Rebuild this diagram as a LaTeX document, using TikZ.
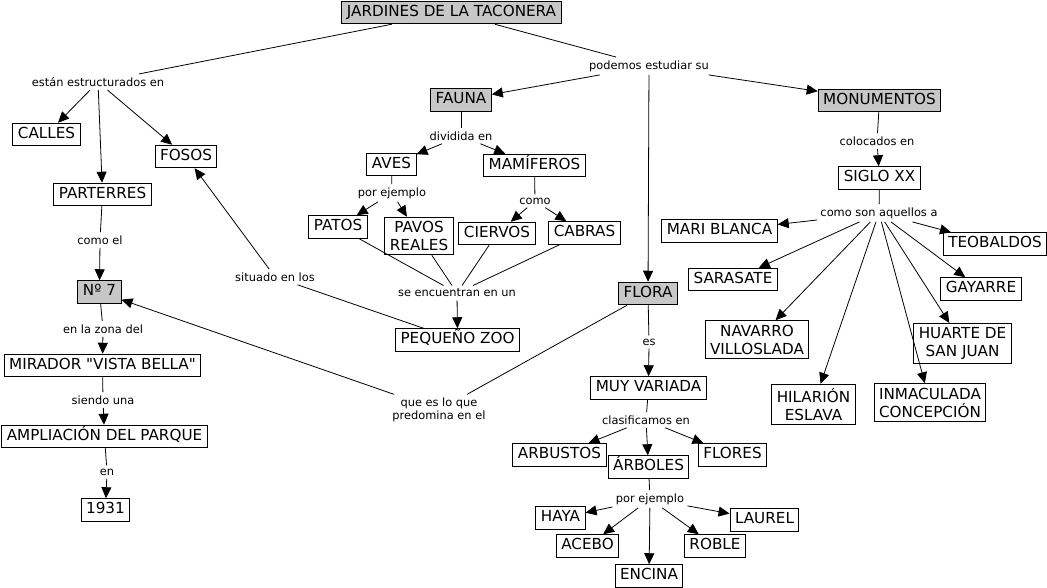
\documentclass[tikz,border=0pt]{standalone}
\usepackage{fontspec}
\setmainfont{DejaVu Sans}
\usetikzlibrary{arrows.meta}
\definecolor{cgray}{gray}{0.78}
\begin{document}
\begin{tikzpicture}[x=1pt, y=-1pt, line width=0.8pt,
  cbox/.style={draw, line width=1pt, font=\fontsize{15.2}{18}\selectfont, inner xsep=5pt, inner ysep=4pt, align=center},
  concept/.style={cbox, text height=11pt, text depth=3.5pt},
  root/.style={concept, fill=cgray},
  link/.style={font=\fontsize{11.4}{13.5}\selectfont, inner sep=3pt, align=center},
  arr/.style={-{Triangle[length=11pt, width=10pt]}}]
\useasboundingbox (0,0) rectangle (1047,588);
\node[root] (cid0) at (451.5,12.5) {JARDINES DE LA TACONERA};
\node[link] (lid0) at (98,82) {están estructurados en};
\node[link] (lid1) at (649,66) {podemos estudiar su};
\draw[](cid0) -- (lid0);
\draw[](cid0) -- (lid1);
% calles, fosos, parterres
\node[concept] (cid1) at (46.5,134.5) {CALLES};
\node[concept] (cid2) at (186,156.5) {FOSOS};
\node[concept] (cid3) at (102.5,194.5) {PARTERRES};
\draw[arr](lid0) -- (cid1);
\draw[arr](lid0) -- (cid3);
\draw[arr](lid0) -- (cid2);
\node[link] (lid2) at (100,240) {como el};
\node[root] (cid4) at (99.5,292) {Nº 7};
\draw[](cid3) -- (lid2);
\draw[arr](lid2) -- (cid4);
\node[link] (lid3) at (103,329) {en la zona del};
\node[concept] (cid5) at (102.5,365.5) {MIRADOR \textquotedbl VISTA BELLA\textquotedbl};
\draw[](cid4) -- (lid3);
\draw[arr](lid3) -- (cid5);
\node[link] (lid4) at (103,400) {siendo una};
\node[concept] (cid6) at (104.5,436.5) {AMPLIACIÓN DEL PARQUE};
\draw[](cid5) -- (lid4);
\draw[arr](lid4) -- (cid6);
\node[link] (lid5) at (107,472) {en};
\node[concept] (cid7) at (105.5,510) {1931};
\draw[](cid6) -- (lid5);
\draw[arr](lid5) -- (cid7);
% fauna
\node[root] (cid8) at (461,100) {FAUNA};
\draw[arr](lid1) -- (cid8);
\node[link] (lid6) at (461,136) {dividida en};
\node[concept] (cid9) at (391.5,164.5) {AVES};
\node[concept] (cid10) at (534.5,165.5) {MAMÍFEROS};
\draw[](cid8) -- (lid6);
\draw[arr](lid6) -- (cid9);
\draw[arr](lid6) -- (cid10);
\node[link] (lid7) at (392,193) {por ejemplo};
\node[concept] (cid11) at (338,227) {PATOS};
\node[cbox] (cid12) at (419,236) {PAVOS\\REALES};
\draw[](cid9) -- (lid7);
\draw[arr](lid7) -- (cid11);
\draw[arr](lid7) -- (cid12);
\node[link] (lid8) at (535,201) {como};
\node[concept] (cid13) at (497,233.5) {CIERVOS};
\node[concept] (cid14) at (584.5,233) {CABRAS};
\draw[](cid10) -- (lid8);
\draw[arr](lid8) -- (cid13);
\draw[arr](lid8) -- (cid14);
\node[link] (lid9) at (457,293) {se encuentran en un};
\node[concept] (cid15) at (457.5,340) {PEQUEÑO ZOO};
\draw[](cid11) -- (lid9);
\draw[](cid12) -- (lid9);
\draw[](cid13) -- (lid9);
\draw[](cid14) -- (lid9);
\draw[arr](lid9) -- (cid15);
\node[link] (lid10) at (275,277) {situado en los};
\draw[](cid15) -- (lid10);
\draw[arr](lid10) -- (cid2);
% flora
\node[root] (cid16) at (648,293.5) {FLORA};
\draw[arr](lid1) -- (cid16);
\node[link] (lid12) at (439,410) {que es lo que\\predomina en el};
\draw[](cid16) -- (lid12);
\draw[arr](lid12) -- (cid4);
\node[link] (lid11) at (649,342) {es};
\node[concept] (cid17) at (648.5,388) {MUY VARIADA};
\draw[](cid16) -- (lid11);
\draw[arr](lid11) -- (cid17);
\node[link] (lid13) at (646,420) {clasificamos en};
\node[concept] (cid18) at (559.5,455) {ARBUSTOS};
\node[concept] (cid19) at (648.5,467) {ÁRBOLES};
\node[concept] (cid20) at (732.5,455) {FLORES};
\draw[](cid17) -- (lid13);
\draw[arr](lid13) -- (cid18);
\draw[arr](lid13) -- (cid19);
\draw[arr](lid13) -- (cid20);
\node[link] (lid14) at (650,499) {por ejemplo};
\node[concept] (cid21) at (560.5,518) {HAYA};
\node[concept] (cid22) at (587.5,546) {ACEBO};
\node[concept] (cid23) at (649,576) {ENCINA};
\node[concept] (cid24) at (715,546) {ROBLE};
\node[concept] (cid25) at (764.5,520) {LAUREL};
\draw[](cid19) -- (lid14);
\draw[arr](lid14) -- (cid21);
\draw[arr](lid14) -- (cid22);
\draw[arr](lid14) -- (cid23);
\draw[arr](lid14) -- (cid24);
\draw[arr](lid14) -- (cid25);
% monumentos
\node[root] (cid26) at (879.5,100.5) {MONUMENTOS};
\draw[arr](lid1) -- (cid26);
\node[link] (lid15) at (877,141) {colocados en};
\node[concept] (cid27) at (879.5,178) {SIGLO XX};
\draw[](cid26) -- (lid15);
\draw[arr](lid15) -- (cid27);
\node[link] (lid16) at (879,213) {como son aquellos a};
\draw[](cid27) -- (lid16);
\node[concept] (cid28) at (719.5,231) {MARI BLANCA};
\node[concept] (cid29) at (995,244) {TEOBALDOS};
\node[concept] (cid30) at (733,279.5) {SARASATE};
\node[concept] (cid31) at (981,289) {GAYARRE};
\node[cbox] (cid32) at (757,339.5) {NAVARRO\\VILLOSLADA};
\node[cbox] (cid33) at (962.5,343.5) {HUARTE DE\\SAN JUAN};
\node[cbox] (cid34) at (813.5,404.5) {HILARIÓN\\ESLAVA};
\node[cbox] (cid35) at (930,402.5) {INMACULADA\\CONCEPCIÓN};
\draw[arr](lid16) -- (cid28);
\draw[arr](lid16) -- (cid29);
\draw[arr](lid16) -- (cid30);
\draw[arr](lid16) -- (cid31);
\draw[arr](lid16) -- (cid32);
\draw[arr](lid16) -- (cid33);
\draw[arr](lid16) -- (cid34);
\draw[arr](lid16) -- (cid35);

\end{tikzpicture}
\end{document}
